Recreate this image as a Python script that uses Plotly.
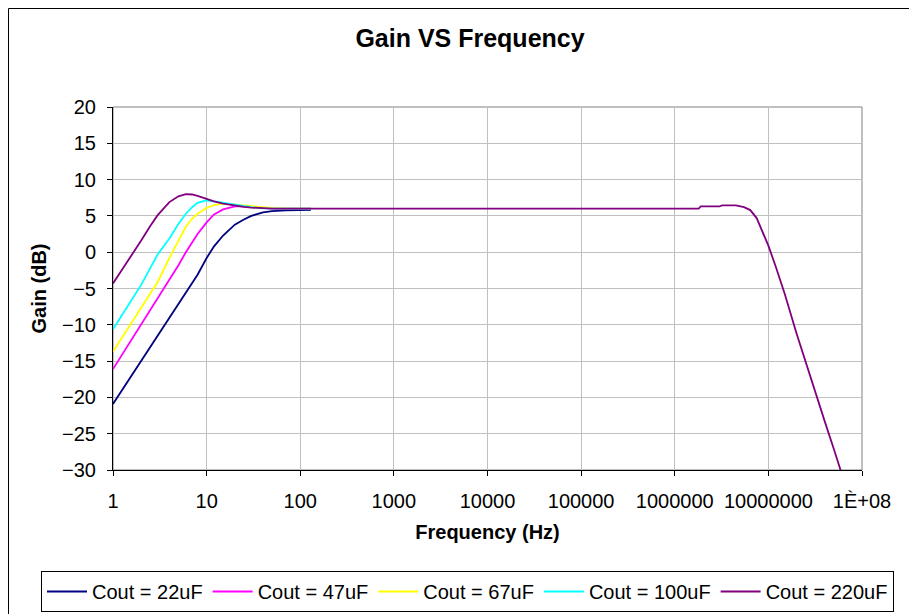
import plotly.graph_objects as go

# ---------------- data ----------------
freq_low = [1, 1.5, 2, 3, 4, 5, 6, 7, 8, 10, 12, 15, 20, 25, 30, 40, 50, 70, 100, 130]

gain_22uF = [-20.9, -17.4, -14.9, -11.4, -8.9, -7.0, -5.5, -4.2, -3.1, -0.8, 0.8, 2.3, 3.8, 4.5,
             5.0, 5.5, 5.65, 5.75, 5.8, 5.85]
gain_47uF = [-16.1, -12.5, -10.0, -6.4, -3.9, -1.8, 0.0, 1.4, 2.5, 4.1, 5.2, 5.9, 6.3, 6.3,
             6.2, 6.1, 6.05, 6.0, 6.0, 6.0]
gain_67uF = [-13.7, -10.2, -7.7, -4.1, -0.8, 1.6, 3.5, 4.6, 5.3, 6.1, 6.5, 6.7, 6.55, 6.4,
             6.3, 6.15, 6.1, 6.05, 6.0, 6.0]
gain_100uF = [-10.6, -7.0, -4.5, -0.3, 1.9, 3.9, 5.3, 6.2, 6.8, 7.15, 7.0, 6.75, 6.5, 6.35,
              6.2, 6.05, 6.0, 6.0, 6.0, 6.0]

freq_220uF = [1, 1.5, 2, 2.5, 3, 4, 5, 6, 7, 8, 10, 12, 15, 20, 25, 30, 40, 50, 100,
              1e3, 1e4, 1e5, 1e6, 1.8e6, 1.9e6, 3.0e6, 3.2e6, 4.5e6, 5.5e6, 6.4e6, 7.5e6,
              8.5e6, 1e7, 1.2e7, 1.5e7, 2e7, 2.5e7, 3.3e7, 4e7, 5e7, 5.9e7]
gain_220uF = [-4.3, -0.9, 1.6, 3.6, 5.1, 6.9, 7.7, 8.0, 7.95, 7.75, 7.3, 7.0, 6.7, 6.4, 6.25,
              6.15, 6.05, 6.0, 6.0,
              6.0, 6.0, 6.0, 6.0, 6.0, 6.3, 6.3, 6.45, 6.45, 6.2, 5.8, 4.7,
              3.0, 0.9, -2.0, -5.8, -11.2, -15.2, -19.9, -23.3, -27.1, -30.0]

series_names = ["Cout = 22uF", "Cout = 47uF", "Cout = 67uF", "Cout = 100uF", "Cout = 220uF"]
series_colors = ["#000080", "#FF00FF", "#FFFF00", "#00FFFF", "#800080"]

x_tickvals = [1, 10, 100, 1000, 10000, 100000, 1000000, 10000000, 100000000]
x_ticktext = ["1", "10", "100", "1000", "10000", "100000", "1000000", "10000000", "1È+08"]
y_tickvals = [-30, -25, -20, -15, -10, -5, 0, 5, 10, 15, 20]

# ---------------- figure ----------------
# the page body adds an 8px offset, so the figure is 8px smaller
W, H = 909, 606
ML, MR, MT, MB = 105, 55, 99, 144
PW, PH = W - ML - MR, H - MT - MB


def px_x(p):
    return (p - ML) / PW


def px_y(p):
    return (H - MB - p) / PH


fig = go.Figure()
xs = [freq_low, freq_low, freq_low, freq_low, freq_220uF]
ys = [gain_22uF, gain_47uF, gain_67uF, gain_100uF, gain_220uF]
for x, y, n, c in zip(xs, ys, series_names, series_colors):
    fig.add_trace(go.Scatter(x=x, y=y, mode="lines", name=n,
                             line=dict(color=c, width=1.8)))

font_family = "Liberation Sans, Arial, sans-serif"

fig.update_layout(
    width=W, height=H,
    margin=dict(l=ML, r=MR, t=MT, b=MB, autoexpand=False),
    paper_bgcolor="white", plot_bgcolor="white",
    font=dict(family=font_family, size=20, color="black"),
    title=dict(text="Gain VS Frequency", x=px_x(462), xref="paper", xanchor="center",
               y=1 - 30 / H, yref="container", yanchor="middle",
               font=dict(size=25, weight="bold", family=font_family)),
    showlegend=True,
    legend=dict(orientation="h", xref="paper", yref="paper",
                x=px_x(33), xanchor="left", y=px_y(563), yanchor="top",
                bordercolor="black", borderwidth=1, bgcolor="white",
                font=dict(size=20, family=font_family), itemwidth=40,
                traceorder="normal"),
    xaxis=dict(type="log", range=[0, 8], tickvals=x_tickvals, ticktext=x_ticktext,
               showgrid=True, gridcolor="#c0c0c0", gridwidth=1,
               ticks="outside", ticklen=5, tickcolor="black", ticklabelstandoff=8,
               showline=True, linecolor="black", linewidth=1, zeroline=False,
               tickfont=dict(size=20),
               title=dict(text="Frequency (Hz)", font=dict(size=20, weight="bold"), standoff=13)),
    yaxis=dict(range=[-30, 20], tickvals=y_tickvals,
               showgrid=True, gridcolor="#c0c0c0", gridwidth=1,
               ticks="outside", ticklen=5, tickcolor="black", ticklabelstandoff=7,
               showline=True, linecolor="black", linewidth=1, zeroline=False,
               tickfont=dict(size=20),
               title=dict(text="Gain (dB)", font=dict(size=20, weight="bold"), standoff=10)),
    shapes=[
        dict(type="rect", xref="paper", yref="paper", x0=0, x1=1, y0=0, y1=1,
             line=dict(color="#808080", width=1), layer="below"),
        dict(type="rect", xref="paper", yref="paper",
             x0=px_x(0.5), x1=px_x(904), y0=px_y(640), y1=px_y(0.5),
             line=dict(color="black", width=1), layer="below"),
    ],
)

fig.write_html("out.html")
